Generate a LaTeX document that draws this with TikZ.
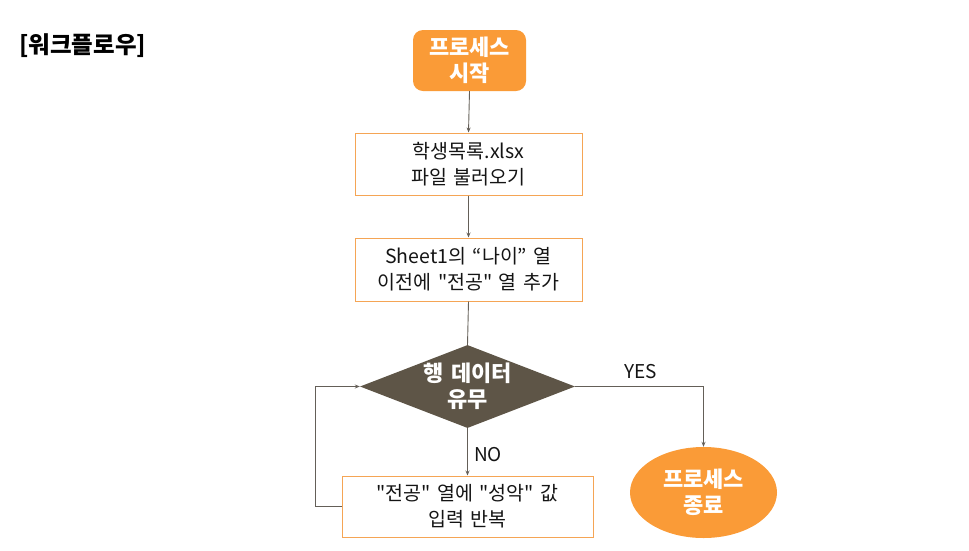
\documentclass[tikz,border=0pt]{standalone}
\usepackage{fontspec}
\setmainfont{Noto Sans CJK KR}[Ligatures=TeXOff, WordSpace=1.5]
\usetikzlibrary{shapes.geometric,arrows.meta}
\definecolor{orangeF}{RGB}{250,155,55}
\definecolor{boxB}{RGB}{245,165,85}
\definecolor{lineC}{RGB}{100,95,88}
\definecolor{diaF}{RGB}{94,85,71}
\definecolor{txtC}{RGB}{20,20,20}
\begin{document}
\begin{tikzpicture}[x=1pt,y=-1pt,
  every node/.style={inner sep=0pt, align=center},
  txt/.style={font=\fontsize{19.5}{26}\selectfont, text=txtC},
  btxt/.style={font=\fontsize{22}{26}\selectfont\bfseries, text=white},
  stepbox/.style={draw=boxB, fill=white, line width=1pt, txt},
  startbox/.style={fill=orangeF, rounded corners=10pt, btxt},
  endell/.style={ellipse, fill=orangeF, btxt},
  decide/.style={diamond, fill=diaF, btxt},
  conn/.style={draw=lineC, line width=0.9pt, -{Stealth[length=5pt,width=4pt]}},
  lbl/.style={font=\fontsize{19}{22}\selectfont, text=txtC}
]
\useasboundingbox (0,0) rectangle (969,550);
\node[font=\fontsize{23.5}{26}\selectfont\bfseries, anchor=west] (title) at (19,46) {[워크플로우]};
\node[startbox, minimum width=113pt, minimum height=61pt] (start) at (469.5,60.5) {프로세스\\시작};
\node[stepbox, minimum width=227pt, minimum height=62pt] (load) at (468.5,164) {학생목록.xlsx\\파일 불러오기};
\node[stepbox, minimum width=227pt, minimum height=63pt] (addcol) at (468.5,269.5) {Sheet1의 “나이” 열\\이전에 "전공" 열 추가};
\node[decide, minimum width=215pt, minimum height=83pt, aspect=2.6] (dec) at (467.5,386.5) {행 데이터\\유무};
\node[stepbox, minimum width=251pt, minimum height=61pt] (fill) at (467.5,506.5) {"전공" 열에 "성악" 값\\입력 반복};
\node[endell, minimum width=147pt, minimum height=91pt] (end) at (703.5,492.5) {프로세스\\종료};
\draw[conn] (start.south) -- (load.north);
\draw[conn] (load.south) -- (addcol.north);
\draw[draw=lineC, line width=0.9pt] (addcol.south) -- (dec.north);
\draw[conn] (dec.south) -- (fill.north);
\draw[conn] (dec.east) -| (end.north);
\draw[conn] (fill.west) -- ++(-26,0) |- (dec.west);
\node[lbl] (yes) at (641,372) {YES};
\node[lbl, anchor=west] (no) at (474,455) {NO};
\end{tikzpicture}
\end{document}
